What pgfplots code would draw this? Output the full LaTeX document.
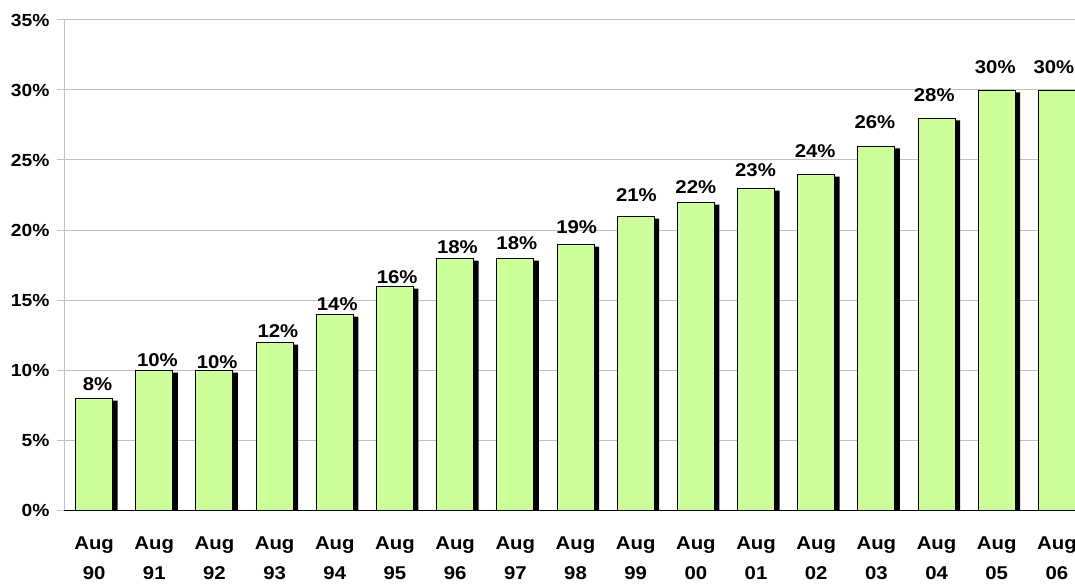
\documentclass[border=0pt]{standalone}
\usepackage{fontspec}
\setmainfont{Liberation Sans}[FakeStretch=1.1]
\usepackage{pgfplots}
\usepackage{pgfplotstable}
\pgfplotsset{compat=1.18}
\definecolor{barfill}{RGB}{204,255,153}
\definecolor{gridgray}{RGB}{192,192,192}
\pgfplotstableread{
x y gap xoff
0 8 7 3.5
1 10 2.7 3.1
2 10 1 2.7
3 12 4.4 3.3
4 14 3.3 2.5
5 16 1.7 2.2
6 18 4 2.3
7 18 8 1.5
8 19 10 1.2
9 21 14.3 0.8
10 22 8.3 0
11 23 11.3 -0.5
12 24 15.7 -1
13 26 16.7 -1.5
14 28 16 -2.3
15 30 16 -1.5
16 30 16 -3
}\datatable
\begin{document}
\begin{tikzpicture}
\begin{axis}[
  scale only axis,
  width=1023pt, height=490pt,
  xmin=-0.5, xmax=16.5,
  ymin=0, ymax=35,
  axis lines=left,
  axis line style={-},
  x axis line style={black, line width=0.8pt},
  y axis line style={gridgray, line width=1pt},
  ytick={0,5,...,35},
  yticklabel={\pgfmathprintnumber{\tick}\%},
  /pgf/number format/assume math mode=true,
  ymajorgrids,
  major grid style={gridgray, line width=1pt},
  ytick style={gridgray, line width=1pt},
  major tick length=7pt,
  tick align=outside,
  xtick={0,...,16},
  xticklabels={{Aug\\90},{Aug\\91},{Aug\\92},{Aug\\93},{Aug\\94},{Aug\\95},{Aug\\96},{Aug\\97},{Aug\\98},{Aug\\99},{Aug\\00},{Aug\\01},{Aug\\02},{Aug\\03},{Aug\\04},{Aug\\05},{Aug\\06}},
  xtick style={draw=none},
  minor xtick={-0.5,0.5,...,16.5},
  minor tick length=6pt,
  minor x tick style={black, line width=0.8pt},
  xticklabel style={align=center, font=\bfseries\fontsize{18.5}{30}\selectfont, yshift=-16pt},
  yticklabel style={font=\bfseries\fontsize{17.5}{20}\selectfont, xshift=-4pt},
  clip=true,
]
\addplot[
  ybar, bar width=37pt, fill=barfill, draw=black, line width=0.9pt,
  preaction={fill=black, draw=none, transform canvas={xshift=5pt, yshift=-2.5pt}},
  nodes near coords={\pgfmathprintnumber{\pgfplotspointmeta}\%},
  point meta=explicit,
  visualization depends on={\thisrow{gap} \as \gap},
  visualization depends on={\thisrow{xoff} \as \xoff},
  every node near coord/.append style={anchor=south, inner sep=0pt, yshift=\gap pt, xshift=\xoff pt, font=\bfseries\fontsize{18.5}{20}\selectfont, text=black},
] table[x=x, y=y, meta=y] {\datatable};
\coordinate (ll) at (rel axis cs:0,0);
\coordinate (ur) at (rel axis cs:1,1);
\end{axis}
\pgfresetboundingbox
\useasboundingbox ([shift={(-64pt,-74pt)}]ll) rectangle ([shift={(-12pt,20pt)}]ur);
\end{tikzpicture}
\end{document}
